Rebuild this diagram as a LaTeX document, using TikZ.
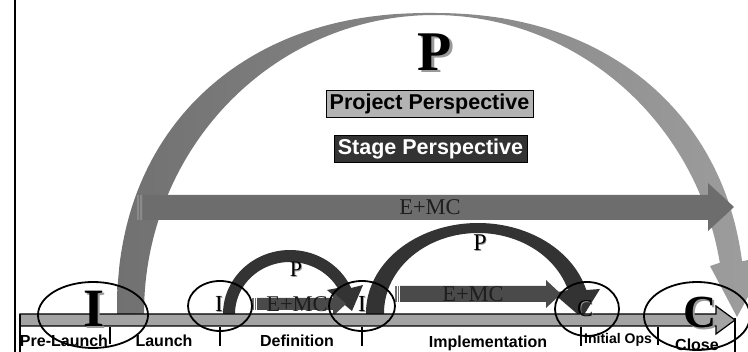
\documentclass[tikz,border=0pt]{standalone}
\usepackage{fontspec}
\setmainfont{Liberation Serif}
\setsansfont{Liberation Sans}
\definecolor{bigL}{HTML}{717171}
\definecolor{bigR}{HTML}{9E9E9E}
\definecolor{bigarrow}{HTML}{6D6D6D}
\definecolor{darkarc}{HTML}{333333}
\definecolor{smallarrow}{HTML}{4A4A4A}
\definecolor{tlfill}{HTML}{A3A3A3}
\definecolor{projbox}{HTML}{B3B3B3}
\definecolor{stagebox}{HTML}{333333}
\definecolor{shadowgray}{HTML}{9A9A9A}
\definecolor{emctext}{HTML}{1E1E1E}
\newcommand\shadowtxt[2]{\rlap{\hspace{#1}\raisebox{-#1}{\textcolor{shadowgray}{#2}}}#2}
\begin{document}
\begin{tikzpicture}[x=1pt,y=-1pt,
  lbl/.style={font=\sffamily\bfseries\fontsize{16}{18}\selectfont, anchor=base, inner sep=0pt},
  smalllbl/.style={font=\sffamily\bfseries\fontsize{14}{16}\selectfont, anchor=base, inner sep=0pt},
  ell/.style={draw=black, line width=1.8pt},
  tickline/.style={draw=black, line width=1.6pt},
  emc/.style={font=\fontsize{22.5}{24}\selectfont, text=emctext, inner sep=0pt},
  bigletter/.style={font=\bfseries\fontsize{#1}{#1}\selectfont, inner sep=0pt},
  smallletter/.style={font=\fontsize{#1}{#1}\selectfont, inner sep=0pt},
  perspbox/.style={draw=black, line width=0.8pt, minimum height=27pt, inner sep=0pt,
    font=\sffamily\bfseries\fontsize{21.5}{24}\selectfont}
]
\useasboundingbox (0,0) rectangle (748,352);
\clip (0,0) rectangle (748,352);
\fill[white] (0,0) rectangle (748,352);

% left border
\draw[black, line width=2pt] (15,0) -- (15,352);

% big project arc
\shade[left color=bigL, right color=bigR]
  (117,318) -- plot[domain=180:8.2, samples=140]
    ({431+314*cos(\x)*exp(-0.0909*ln(abs(cos(\x))+0.0001))},
     {313-300*exp(0.909*ln(abs(sin(\x))+0.0001))})
  -- (770,256) -- (737,317) -- (710,266)
  -- plot[domain=9.7:180, samples=120] ({434+290*cos(\x)}, {313-298*sin(\x)})
  -- (144,318) -- cycle;

% big E+MC arrow
\fill[bigarrow] (143,195) -- (708,195) -- (708,183) -- (734,207) -- (708,231) -- (708,220) -- (143,220) -- cycle;
\fill[bigarrow!80] (137,195) rectangle (138.5,220);
\fill[bigarrow!80] (140,195) rectangle (141.5,220);
\node[emc] (emcbig) at (430,207.5) {E+MC};

% small arc 1 (Definition)
\fill[darkarc] plot[domain=183:24, samples=60] ({290+67*cos(\x)}, {314-64*sin(\x)})
  -- (363,285) -- (352,311) -- (327,290)
  -- plot[domain=30:183, samples=60] ({290+55*cos(\x)}, {314-52*sin(\x)}) -- cycle;

% small arc 2 (Implementation)
\fill[darkarc] plot[domain=183:14.8, samples=80] ({478+112*cos(\x)}, {313-90*sin(\x)})
  -- (600,289) -- (582,318) -- (553,293)
  -- plot[domain=16.7:183, samples=80] ({478+94*cos(\x)}, {313-80*sin(\x)}) -- cycle;

% small E+MC arrows
\fill[smallarrow] (257,298) -- (333,298) -- (333,292) -- (346,304) -- (333,316) -- (333,310) -- (257,310) -- cycle;
\fill[smallarrow!80] (252,298) rectangle (253.5,310);
\fill[smallarrow!80] (254.5,298) rectangle (256,310);
\node[emc] (emca) at (297,304) {E+MC};

\fill[smallarrow] (400,286) -- (546,286) -- (546,280) -- (561,294) -- (546,308) -- (546,302) -- (400,302) -- cycle;
\fill[smallarrow!80] (395,286) rectangle (396.5,302);
\fill[smallarrow!80] (397.5,286) rectangle (399,302);
\node[emc] (emcb) at (473,294) {E+MC};

% arc letters
\node[smallletter=22] (pa) at (296,270) {\shadowtxt{0.9pt}{P}};
\node[smallletter=24] (pb) at (480,243) {\shadowtxt{0.9pt}{P}};

% top P and boxes
\node[bigletter=56] (ptop) at (435,53) {\shadowtxt{2.2pt}{P}};
\node[perspbox, fill=projbox, minimum width=207pt] (proj) at (429.5,103.5) {Project Perspective};
\node[perspbox, fill=stagebox, text=white, minimum width=193pt] (stage) at (430.5,148.5) {Stage Perspective};

% timeline
\filldraw[fill=tlfill, draw=black, line width=1.2pt]
  (20,314) -- (716,314) -- (716,306) -- (735,320) -- (716,334) -- (716,326) -- (20,326) -- cycle;

% ticks
\draw[tickline] (20,314) -- (20,352);
\draw[tickline] (110,327) -- (110,344);
\draw[tickline] (220,327) -- (220,346);
\draw[tickline] (362,327) -- (362,346);
\draw[tickline] (581,327) -- (581,346);
\draw[tickline] (658,327) -- (658,345);
\draw[tickline] (735,318) -- (735,352);

% stage labels
\node[lbl] (lprelaunch) at (64,347) {Pre-Launch};
\node[lbl] (llaunch) at (164,347) {Launch};
\node[lbl] (ldef) at (297,347) {Definition};
\node[lbl] (limpl) at (488,348) {Implementation};
\node[smalllbl] (linit) at (618,344) {Initial Ops};
\node[lbl] (lclose) at (697,351) {Close};

% gate letters
\node[bigletter=54] (bigi) at (94,310) {\shadowtxt{2pt}{I}};
\node[smallletter=23] (i1) at (219,304.5) {\shadowtxt{0.9pt}{I}};
\node[smallletter=23] (i2) at (362,304.5) {\shadowtxt{0.9pt}{I}};
\node[smallletter=24] (c1) at (585,309) {\shadowtxt{0.9pt}{C}};
\node[bigletter=46] (bigc) at (700,313) {\shadowtxt{2pt}{C}};

% gate ellipses
\draw[ell] (93,315) ellipse [x radius=55pt, y radius=33pt];
\draw[ell] (220,306) ellipse [x radius=32pt, y radius=25pt];
\draw[ell] (362,306) ellipse [x radius=33pt, y radius=25pt];
\draw[ell] (587,309) ellipse [x radius=32pt, y radius=27pt];
\draw[ell] (697,316) ellipse [x radius=53pt, y radius=34pt];
\end{tikzpicture}
\end{document}
